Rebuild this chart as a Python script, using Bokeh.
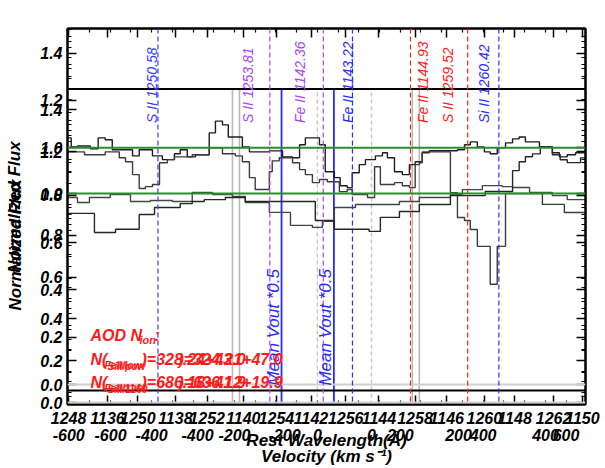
from math import pi
from bokeh.plotting import figure
from bokeh.models import Range1d, LinearAxis, FixedTicker, Span, Label
from bokeh.embed import file_html
from bokeh.resources import INLINE

# ---------------- data ----------------
# overlaid panels: two velocity axes, two wavelength axes, two flux axes
vel_range_1 = (-603.0, 647.0)
vel_range_2 = (-699.0, 492.0)
wave_range_1 = (1247.97, 1262.92)
wave_range_2 = (1134.82, 1150.09)
flux_range_b = (-0.084, 1.504)
flux_range_a = (-0.0095, 1.790)

wave_ticks_1 = [1248, 1250, 1252, 1254, 1256, 1258, 1260, 1262]
wave_ticks_2 = [1136, 1138, 1140, 1142, 1144, 1146, 1148, 1150]
vel_ticks_1 = [-600, -400, -200, 0, 200, 400, 600]
vel_ticks_2 = [-600, -400, -200, 0, 200, 400]
flux_ticks = [0.0, 0.2, 0.4, 0.6, 0.8, 1.0, 1.2, 1.4]

ion_names = ["S II 1250.58", "S II 1253.81", "Fe II 1142.36", "Fe II 1143.22",
             "Fe II 1144.93", "S II 1259.52", "Si II 1260.42"]
ion_waves = [1250.58, 1253.81, 1142.36, 1143.22, 1144.93, 1259.52, 1260.42]
ion_panel = ["w1", "w1", "w2", "w2", "w2", "w1", "w1"]

mean_vout_half = -86.5
vel_limits = [-205, -188, 229, 246]
vel_zero = 0

# spectra (velocity bin edges in km/s, normalized flux)
u1_edges = [-603, -594, -579, -548, -529, -512, -495, -446, -430, -398, -374, -345, -331, -314, -294,
            -261, -246, -229, -215, -181, -164, -116, -84, -60, -43, -29, 5, 19, 41, 55, 72, 84, 101,
            116, 140, 157, 169, 186, 205, 222, 236, 253, 270, 338, 355, 369, 386, 403, 417, 434, 454,
            471, 487, 502, 536, 567, 584, 603, 623, 647]
u1_flux = [1.042, 1.004, 1.008, 0.996, 1.042, 1.034, 0.992, 0.966, 0.992, 0.966, 0.950, 0.975, 0.992,
           0.962, 0.971, 1.063, 1.113, 1.097, 1.046, 1.004, 0.983, 0.987, 0.962, 0.958, 1.013, 1.042,
           1.013, 0.899, 0.874, 0.840, 0.832, 0.895, 0.929, 0.950, 0.966, 0.979, 0.958, 0.899, 0.887,
           0.929, 0.941, 0.979, 0.988, 0.992, 1.013, 1.025, 1.004, 0.983, 0.975, 1.0, 1.021, 1.038,
           1.046, 1.025, 1.004, 0.979, 0.962, 0.971, 0.979]

u2_edges = [-603, -562, -512, -478, -463, -446, -430, -415, -398, -381, -362, -345, -302, -261, -229,
            -198, -181, -164, -150, -116, -109, -92, -60, -43, -29, -12, 5, 24, 53, 72, 84, 121, 138,
            152, 186, 205, 222, 236, 246, 253, 321, 338, 355, 369, 386, 417, 434, 454, 543, 596, 647]
u2_flux = [0.983, 0.971, 0.983, 0.958, 0.941, 0.887, 0.828, 0.836, 0.845, 0.937, 0.950, 0.962, 0.971,
           1.0, 0.975, 0.966, 0.941, 0.874, 0.824, 0.899, 0.945, 0.958, 0.937, 0.908, 0.887, 0.853,
           0.866, 0.857, 0.815, 0.824, 0.803, 0.790, 0.920, 0.845, 0.853, 0.840, 0.832, 0.929, 0.937,
           0.983, 0.811, 0.706, 0.693, 0.655, 0.584, 0.424, 0.584, 0.807, 0.761, 0.727]

l1_edges = [-603, -579, -550, -500, -451, -403, -350, -302, -253, -205, -174, -116, -65, -12, 12, 41,
            92, 198, 246, 321, 350, 398, 446, 471, 512, 567, 603, 647]
l1_flux = [0.981, 0.957, 0.981, 0.995, 0.962, 0.967, 0.962, 1.005, 0.995, 0.986, 0.957, 0.910, 0.848,
           0.838, 0.867, 0.933, 0.948, 0.962, 0.981, 0.995, 1.019, 1.038, 1.033, 1.029, 1.005, 0.990,
           0.971]

l2_edges = [-603, -538, -487, -430, -393, -331, -302, -273, -222, -174, -5, 41, 125, 152, 198, 246,
            321, 405, 471, 487, 502, 519, 538, 567, 586, 603, 635, 647]
l2_flux = [0.905, 0.814, 0.829, 0.900, 0.933, 0.952, 0.962, 0.971, 0.981, 0.962, 0.871, 0.829, 0.819,
           0.886, 0.914, 0.948, 0.990, 1.010, 1.110, 1.152, 1.176, 1.190, 1.224, 1.186, 1.162, 1.148,
           1.171]

# ---------------- styling ----------------
ion_colors = ["#3a3aff", "#a845f5", "#a845f5", "#2b2bff", "#ff2020", "#ff2020", "#2b2bff"]
ion_label_dx = [-6, -22, -23, -4, 13, -20, -15]
FONT = "Liberation Sans"
RED = "#ff1a1a"
BLUE = "#2a2aff"
NB = "\u00a0"


def conv(val, src, dst):
    return dst[0] + (val - src[0]) / (src[1] - src[0]) * (dst[1] - dst[0])


# page-pixel helpers for annotation placement (frame: x 67..585, y 28..406)
def at_x(px):
    return conv(px, (67, 585), vel_range_1)


def at_y(py):
    return conv(py, (406, 28), flux_range_b)


p = figure(width=605, height=468, x_range=Range1d(*vel_range_1), y_range=Range1d(*flux_range_b),
           output_backend="svg", toolbar_location=None, x_axis_type=None, y_axis_type=None,
           min_border_left=67, min_border_right=20, min_border_top=28, min_border_bottom=62)
p.extra_x_ranges = {"v2": Range1d(*vel_range_2), "w1": Range1d(*wave_range_1),
                    "w2": Range1d(*wave_range_2)}
p.extra_y_ranges = {"fa": Range1d(*flux_range_a)}
p.outline_line_color = "black"
p.outline_line_width = 2
p.background_fill_color = "white"
p.border_fill_color = "white"

# ---------- axes ----------
xt, xlab = [], {}
for w in wave_ticks_1:
    t = round(conv(w, wave_range_1, vel_range_1), 6)
    xt.append(t); xlab[t] = str(w)
for w in wave_ticks_2:
    t = round(conv(w, wave_range_2, vel_range_1), 6)
    xt.append(t); xlab[t] = str(w)
x_minor = [round(v, 6) for v in range(-600, 650, 50)]
vt, vlab = [], {}
for v in vel_ticks_1:
    t = float(v)
    vt.append(t); vlab[t] = str(v)
for v in vel_ticks_2:
    t = round(conv(v, vel_range_2, vel_range_1), 6)
    vt.append(t); vlab[t] = str(v)
yt, ylab = [], {}
for f in flux_ticks:
    t = round(f, 6)
    yt.append(t); ylab[t] = f"{f:.1f}"
for f in flux_ticks:
    t = round(conv(f, flux_range_a, flux_range_b), 6)
    yt.append(t); ylab[t] = f"{f:.1f}"
y_minor = [round(i * 0.05, 6) for i in range(-1, 31)] + \
          [round(conv(i * 0.05, flux_range_a, flux_range_b), 6) for i in range(0, 36)]

lab_style = dict(major_label_text_font=FONT, major_label_text_font_style="bold italic",
                 major_label_text_font_size="16px", major_label_text_color="black")
title_style = dict(axis_label_text_font=FONT, axis_label_text_font_style="bold italic",
                   axis_label_text_font_size="17px", axis_label_text_color="black")
tick_style = dict(major_tick_in=9, major_tick_out=0, minor_tick_in=4, minor_tick_out=0,
                  axis_line_width=2, major_tick_line_width=1.5, minor_tick_line_width=1.2,
                  axis_line_color="black")
bare = dict(major_tick_in=0, major_tick_out=0, minor_tick_in=0, minor_tick_out=0,
            axis_line_color=None, major_tick_line_color=None, minor_tick_line_color=None)

ax_w = LinearAxis(ticker=FixedTicker(ticks=xt, minor_ticks=x_minor), major_label_overrides=xlab,
                  major_label_standoff=7, **lab_style, **tick_style)
p.add_layout(ax_w, "below")
ax_v = LinearAxis(ticker=FixedTicker(ticks=vt), major_label_overrides=vlab,
                  major_label_standoff=2, axis_label="Rest Wavelength(Å)",
                  axis_label_standoff=-13, **lab_style, **title_style, **bare)
p.add_layout(ax_v, "below")
ax_vt = LinearAxis(ticker=FixedTicker(ticks=[]), axis_label="Velocity (km s⁻¹)",
                   major_label_standoff=0, axis_label_standoff=-6, **title_style, **bare)
p.add_layout(ax_vt, "below")
ax_t = LinearAxis(ticker=FixedTicker(ticks=xt, minor_ticks=x_minor), major_label_text_alpha=0,
                  major_label_text_font_size="2px", major_label_standoff=0, **tick_style)
p.add_layout(ax_t, "above")
ax_l = LinearAxis(ticker=FixedTicker(ticks=yt, minor_ticks=y_minor), major_label_overrides=ylab,
                  major_label_standoff=5, axis_label="Normalized Flux" + NB * 12,
                  axis_label_standoff=12, **lab_style, **title_style, **tick_style)
p.add_layout(ax_l, "left")
ax_l2 = LinearAxis(ticker=FixedTicker(ticks=[]), axis_label=NB * 4 + "Normalized Flux",
                   major_label_standoff=0, axis_label_standoff=-20, **title_style, **bare)
p.add_layout(ax_l2, "left")
ax_r = LinearAxis(ticker=FixedTicker(ticks=yt, minor_ticks=y_minor), major_label_text_alpha=0,
                  major_label_text_font_size="2px", major_label_standoff=0, **tick_style)
p.add_layout(ax_r, "right")

# ---------- horizontal reference lines ----------
p.add_layout(Span(location=0.0, dimension="width", line_color="#cfcfcf", line_width=2))
p.add_layout(Span(location=0.0, dimension="width", y_range_name="fa", line_color="#cfcfcf", line_width=2))
p.add_layout(Span(location=1.5, dimension="width", y_range_name="fa", line_color="black", line_width=2))
p.add_layout(Span(location=-0.025, dimension="width", line_color="black", line_width=2))

# ---------- vertical markers (lower panel) ----------
top_a = 1.5
for v in vel_limits:
    p.segment(x0=v, y0=flux_range_a[0], x1=v, y1=top_a, y_range_name="fa",
              line_color="#b8b8b8", line_width=1.6)
p.segment(x0=vel_zero, y0=flux_range_a[0], x1=vel_zero, y1=top_a, y_range_name="fa",
          line_color="#c4c4c4", line_width=1.4, line_dash="4 3")
p.segment(x0=vel_zero, y0=flux_range_a[0], x1=vel_zero, y1=top_a, y_range_name="fa",
          x_range_name="v2", line_color="#c4c4c4", line_width=1.4, line_dash="4 3")
p.segment(x0=mean_vout_half, y0=flux_range_a[0], x1=mean_vout_half, y1=top_a, y_range_name="fa",
          line_color=BLUE, line_width=1.8)
p.segment(x0=mean_vout_half, y0=flux_range_a[0], x1=mean_vout_half, y1=top_a, y_range_name="fa",
          x_range_name="v2", line_color=BLUE, line_width=1.8)

# ---------- ion lines ----------
for name, w, pn, c, dx in zip(ion_names, ion_waves, ion_panel, ion_colors, ion_label_dx):
    p.add_layout(Span(location=w, dimension="height", x_range_name=pn, line_color=c,
                      line_width=1.2, line_dash="5 3"))
    p.add_layout(Label(x=w, y=at_y(123), x_range_name=pn, text=name, angle=pi / 2,
                       text_align="left", text_baseline="middle", x_offset=dx,
                       text_font=FONT, text_font_style="italic", text_font_size="14px",
                       text_color=c))

# ---------- green continuum ----------
p.add_layout(Span(location=1.0, dimension="width", line_color="#2e8b2e", line_width=2))
p.add_layout(Span(location=1.0, dimension="width", y_range_name="fa", line_color="#2e8b2e", line_width=2))

# ---------- spectra ----------
p.step(x=u1_edges, y=u1_flux + [u1_flux[-1]], mode="after", line_color="#1e1e1e", line_width=1.4)
p.step(x=u2_edges, y=u2_flux + [u2_flux[-1]], mode="after", line_color="#3c3c3c", line_width=1.4)
p.step(x=l1_edges, y=l1_flux + [l1_flux[-1]], mode="after", y_range_name="fa",
       line_color="#444444", line_width=1.4)
p.step(x=l2_edges, y=l2_flux + [l2_flux[-1]], mode="after", y_range_name="fa",
       line_color="#262626", line_width=1.4)

# ---------- Mean Vout labels ----------
for rn in ["default", "v2"]:
    p.add_layout(Label(x=mean_vout_half, y=0.081, y_range_name="fa", x_range_name=rn,
                       text="Mean Vout *0.5", angle=pi / 2, text_align="left",
                       text_baseline="middle", x_offset=-8, text_font=FONT,
                       text_font_style="italic", text_font_size="17px", text_color=BLUE))


# ---------- AOD texts ----------
def txt(px, py, s, size="16px", color=RED, style="bold italic"):
    p.add_layout(Label(x=at_x(px), y=at_y(py), text=s, text_font=FONT, text_font_style=style,
                       text_font_size=size, text_color=color, text_align="left",
                       text_baseline="alphabetic"))


txt(90, 337, "AOD N")
txt(139, 341, "ion", size="11px")
txt(154, 337, ":")
txt(90, 361, "N(")
txt(104, 367, "FeII/low", size="10px")
txt(107, 368, "SiII/pow", size="10px")
txt(141, 361, ")=328.24+43.0")
txt(178, 361, ")=324.21+47.0")
txt(90, 384, "N(")
txt(104, 390, "FeII/1144", size="10px")
txt(107, 391, "SiII/1260", size="10px")
txt(141, 384, ")=686.18+41.9")
txt(178, 384, ")=636.12+19.9")

open("out.html", "w").write(file_html(p, INLINE))
